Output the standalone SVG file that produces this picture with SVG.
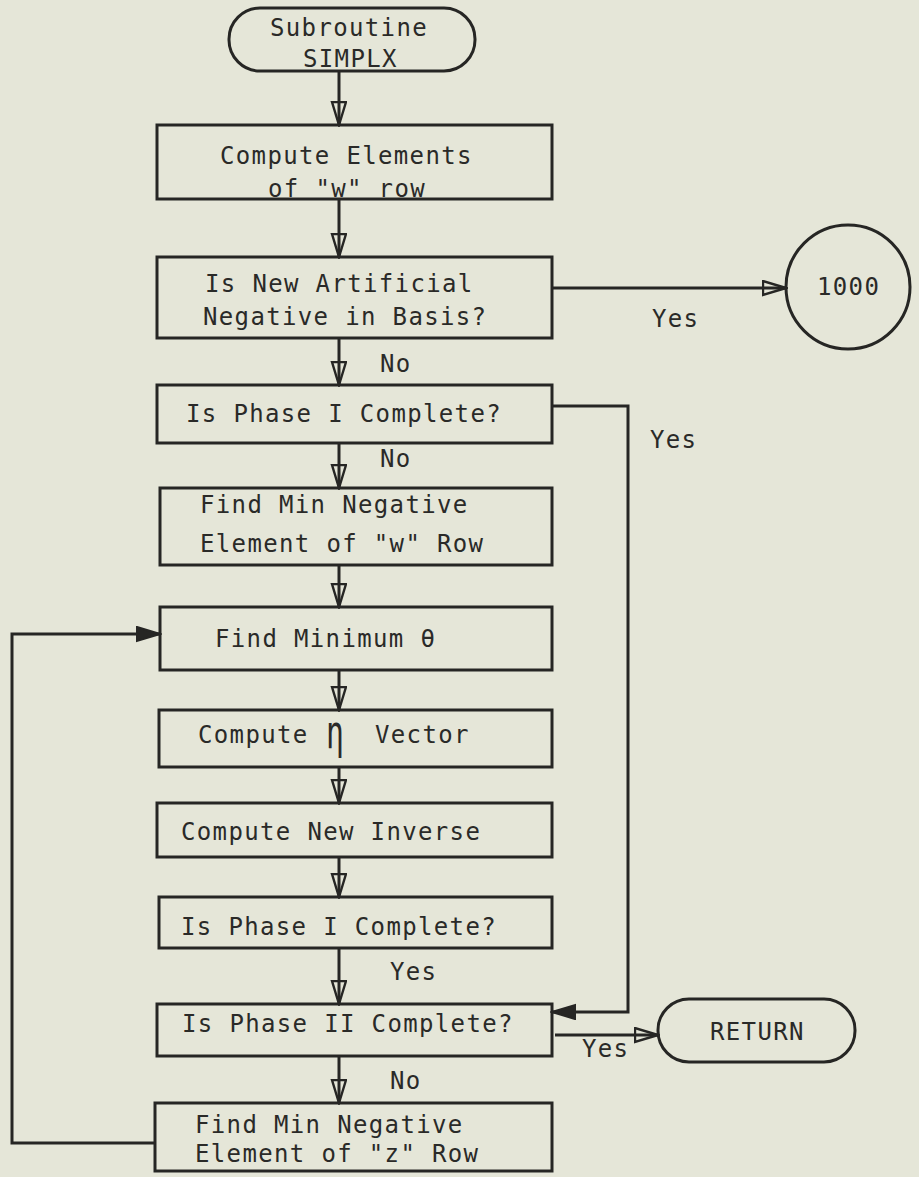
<svg xmlns="http://www.w3.org/2000/svg" width="919" height="1177" viewBox="0 0 919 1177">
<defs>
<style>
.bx{fill:none;stroke:#262624;stroke-width:3}
.cn{fill:none;stroke:#262624;stroke-width:3}
.t{font-family:"DejaVu Sans Mono","Liberation Mono",monospace;font-size:24px;letter-spacing:1.35px;fill:#2a2a28}
</style>
<marker id="ah" markerUnits="userSpaceOnUse" markerWidth="26" markerHeight="18" refX="24" refY="8" orient="auto" viewBox="0 0 26 18">
<path d="M1,1 L24,8 L1,15 Z" fill="none" stroke="#262624" stroke-width="2.4" stroke-linejoin="miter"/>
</marker>
<marker id="ahf" markerUnits="userSpaceOnUse" markerWidth="26" markerHeight="18" refX="24" refY="8" orient="auto" viewBox="0 0 26 18">
<path d="M1,1 L24,8 L1,15 Z" fill="#262624" stroke="#262624" stroke-width="2"/>
</marker>
</defs>
<rect x="0" y="0" width="919" height="1177" fill="#e5e6d8"/>
<g id="connectors">
<line class="cn" x1="339" y1="71" x2="339" y2="125" marker-end="url(#ah)"/>
<line class="cn" x1="339" y1="199" x2="339" y2="257" marker-end="url(#ah)"/>
<line class="cn" x1="552" y1="288" x2="786" y2="288" marker-end="url(#ah)"/>
<line class="cn" x1="339" y1="338" x2="339" y2="385" marker-end="url(#ah)"/>
<polyline class="cn" points="552,406 628,406 628,1012 552,1012" marker-end="url(#ahf)"/>
<line class="cn" x1="339" y1="443" x2="339" y2="488" marker-end="url(#ah)"/>
<line class="cn" x1="339" y1="565" x2="339" y2="607" marker-end="url(#ah)"/>
<line class="cn" x1="339" y1="670" x2="339" y2="710" marker-end="url(#ah)"/>
<line class="cn" x1="339" y1="767" x2="339" y2="803" marker-end="url(#ah)"/>
<line class="cn" x1="339" y1="857" x2="339" y2="897" marker-end="url(#ah)"/>
<line class="cn" x1="339" y1="948" x2="339" y2="1004" marker-end="url(#ah)"/>
<line class="cn" x1="555" y1="1035" x2="658" y2="1035" marker-end="url(#ah)"/>
<line class="cn" x1="339" y1="1056" x2="339" y2="1103" marker-end="url(#ah)"/>
<polyline class="cn" points="155,1143 12,1143 12,634 160,634" marker-end="url(#ahf)"/>
<text class="t" x="652" y="327">Yes</text>
<text class="t" x="380" y="372">No</text>
<text class="t" x="650" y="448">Yes</text>
<text class="t" x="380" y="467">No</text>
<text class="t" x="390" y="980">Yes</text>
<text class="t" x="582" y="1057">Yes</text>
<text class="t" x="390" y="1089">No</text>
</g>
<g id="start">
<rect class="bx" x="229" y="8" width="246" height="63" rx="31"/>
<text class="t" x="270" y="36">Subroutine</text>
<text class="t" x="303" y="67">SIMPLX</text>
</g>
<g id="compute-w">
<rect class="bx" x="157" y="125" width="395" height="74"/>
<text class="t" x="220" y="164">Compute Elements</text>
<text class="t" x="268" y="197">of "w" row</text>
</g>
<g id="artificial">
<rect class="bx" x="157" y="257" width="395" height="81"/>
<text class="t" x="205" y="292">Is New Artificial</text>
<text class="t" x="203" y="325">Negative in Basis?</text>
</g>
<g id="c1000">
<circle class="bx" cx="848" cy="287" r="62"/>
<text class="t" x="817" y="295">1000</text>
</g>
<g id="phase1a">
<rect class="bx" x="157" y="385" width="395" height="58"/>
<text class="t" x="186" y="422">Is Phase I Complete?</text>
</g>
<g id="minneg-w">
<rect class="bx" x="160" y="488" width="392" height="77"/>
<text class="t" x="200" y="513">Find Min Negative</text>
<text class="t" x="200" y="552">Element of "w" Row</text>
</g>
<g id="mintheta">
<rect class="bx" x="160" y="607" width="392" height="63"/>
<text class="t" x="215" y="647">Find Minimum  θ</text>
</g>
<g id="eta">
<rect class="bx" x="159" y="710" width="393" height="57"/>
<text class="t" x="198" y="743">Compute</text>
<text class="t" transform="translate(326,748) scale(0.65,1)" style="font-size:46px;letter-spacing:0">η</text>
<text class="t" x="375" y="743">Vector</text>
</g>
<g id="inverse">
<rect class="bx" x="157" y="803" width="395" height="54"/>
<text class="t" x="181" y="840">Compute New Inverse</text>
</g>
<g id="phase1b">
<rect class="bx" x="159" y="897" width="393" height="51"/>
<text class="t" x="181" y="935">Is Phase I Complete?</text>
</g>
<g id="phase2">
<rect class="bx" x="157" y="1004" width="395" height="52"/>
<text class="t" x="182" y="1032">Is Phase II Complete?</text>
</g>
<g id="return">
<rect class="bx" x="658" y="999" width="197" height="63" rx="31"/>
<text class="t" x="710" y="1040">RETURN</text>
</g>
<g id="minneg-z">
<rect class="bx" x="155" y="1103" width="397" height="68"/>
<text class="t" x="195" y="1133">Find Min Negative</text>
<text class="t" x="195" y="1162">Element of "z" Row</text>
</g>
</svg>
